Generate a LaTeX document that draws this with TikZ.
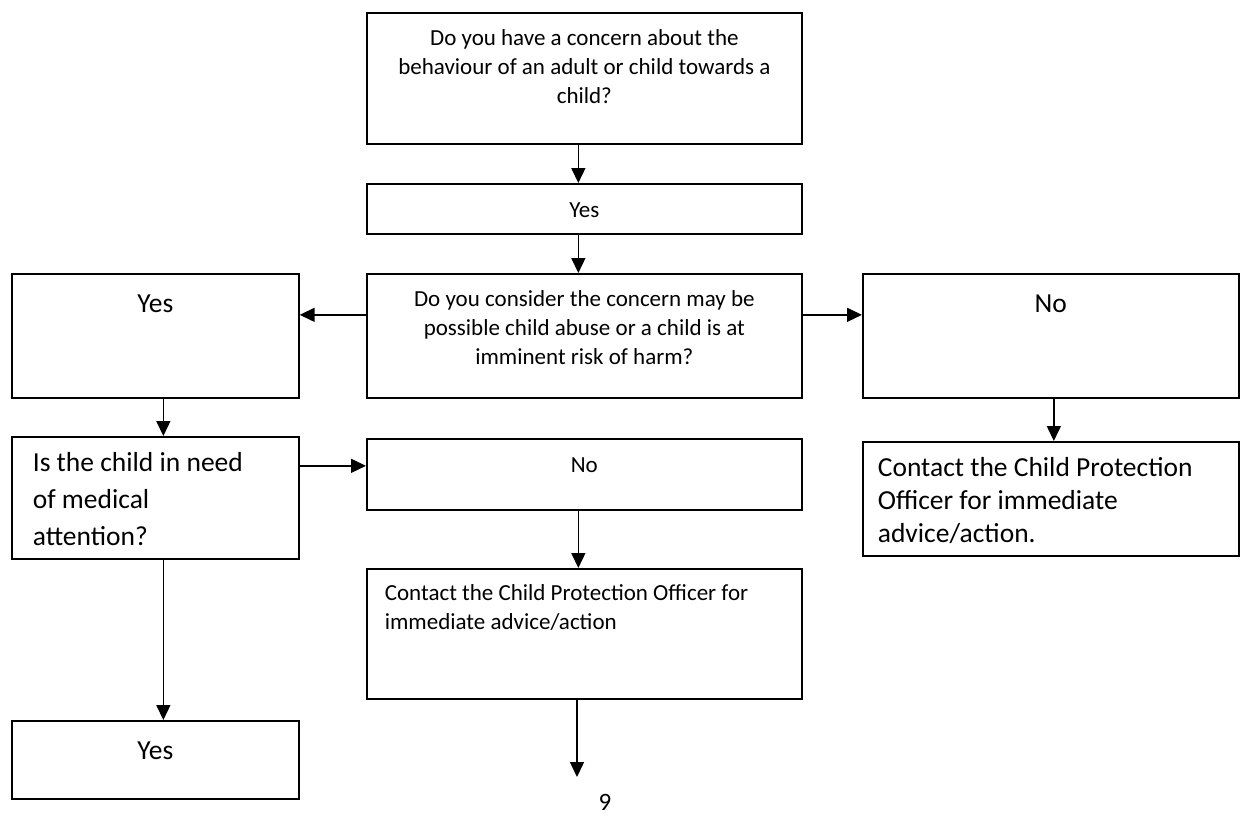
\documentclass[tikz,border=0pt]{standalone}
\usepackage{fontspec}
\setmainfont{Carlito}
\usetikzlibrary{arrows.meta}
\newcommand{\smlfont}{\fontsize{23}{29}\selectfont}
\newcommand{\bigfont}{\fontsize{27.5}{37}\selectfont}
\tikzset{
  blk/.style={draw, line width=1.7pt, anchor=north west, inner ysep=0pt},
  ctr/.style={blk, align=flush center, inner xsep=0pt},
  lft/.style={blk, align=flush left},
  >={Triangle[length=15pt,width=14pt]}
}

\begin{document}
\begin{tikzpicture}[x=1pt, y=-1pt, line width=1.5pt]
  \useasboundingbox (0,0) rectangle (1242,814);
  % middle column
  \node[ctr, font=\smlfont, text width=435pt, text height=33pt, text depth=98pt] (q1) at (366,12)
    {Do you have a concern about the\\behaviour of an adult or child towards a\\child?};
  \node[ctr, font=\smlfont, text width=435pt, text height=34pt, text depth=16pt] (yes1) at (366,183) {Yes};
  \node[ctr, font=\smlfont, text width=435pt, text height=33pt, text depth=91pt] (q2) at (366,273)
    {Do you consider the concern may be\\possible child abuse or a child is at\\imminent risk of harm?};
  \node[ctr, font=\smlfont, text width=435pt, text height=34pt, text depth=37pt] (noM) at (366,438) {No};
  \node[lft, font=\smlfont, inner xsep=18pt, text width=399pt, text height=32pt, text depth=98pt] (cpoM) at (366,568)
    {Contact the Child Protection Officer for\\immediate advice/action};
  \coordinate (nxt) at (577,777);
  \node[font=\fontsize{25}{30}\selectfont, inner sep=0pt] (pg) at (605,802) {9};
  % left column
  \node[ctr, font=\bigfont, text width=287pt, text height=39pt, text depth=85pt] (yesL) at (11,273) {Yes};
  \node[lft, font=\bigfont, inner xsep=21pt, text width=245pt, text height=35pt, text depth=87pt] (medq) at (11,436)
    {Is the child in need\\of medical\\attention?};
  \node[ctr, font=\bigfont, text width=287pt, text height=39pt, text depth=39pt] (yesB) at (11,720) {Yes};
  % right column
  \node[ctr, font=\bigfont, text width=376pt, text height=39pt, text depth=85pt] (noR) at (862,273) {No};
  \node[lft, font=\bigfont, inner xsep=15pt, text width=346pt, text height=35pt, text depth=79pt,
    execute at begin node={\setlength{\baselineskip}{33pt}}] (cpoR) at (862,441)
    {Contact the Child Protection\\Officer for immediate\\advice/action.};
  % arrows
  \coordinate (a1) at ([yshift=8.5pt]noM.west);
  \draw[->] ([xshift=-6pt]q1.south) -- ([xshift=-6pt]yes1.north);
  \draw[->] ([xshift=-6pt]yes1.south) -- ([xshift=-6pt]q2.north);
  \draw[->] ([yshift=21pt]q2.west) -- ([yshift=21pt]yesL.east);
  \draw[->] ([yshift=21pt]q2.east) -- ([yshift=21pt]noR.west);
  \draw[->] ([xshift=8pt]yesL.south) -- ([xshift=8pt]medq.north);
  \draw[->] ([xshift=3pt]noR.south) -- ([xshift=3pt]cpoR.north);
  \draw[->] (medq.east |- a1) -- (a1);
  \draw[->] ([xshift=-6pt]noM.south) -- ([xshift=-6pt]cpoM.north);
  \draw[->] ([xshift=8pt]medq.south) -- ([xshift=8pt]yesB.north);
  \draw[->] (cpoM.south -| nxt) -- (nxt);
\end{tikzpicture}
\end{document}
